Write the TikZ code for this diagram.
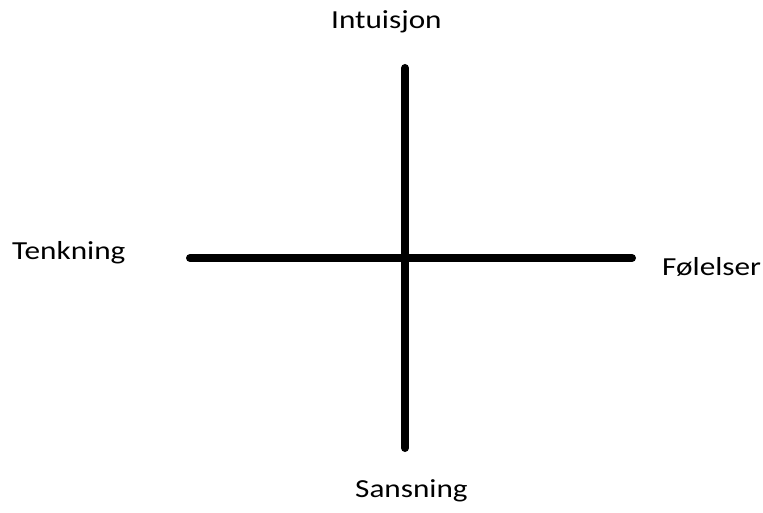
\documentclass[tikz,border=0pt]{standalone}
\usepackage{fontspec}
\setmainfont[FakeStretch=1.2]{Carlito}
\begin{document}
\begin{tikzpicture}[x=1pt,y=-1pt,
  axis/.style={line width=8pt,line cap=round},
  lbl/.style={inner sep=0pt,anchor=base west,font=\fontsize{26}{30}\selectfont,text=black}]
\useasboundingbox (0,0) rectangle (763,513);
\coordinate (top) at (405,68);
\coordinate (bot) at (405,448);
\coordinate (left) at (190,258);
\coordinate (right) at (632,258);
\draw[axis] (top) -- (bot);
\draw[axis] (left) -- (right);
\node[lbl] (intu) at (331,29) {Intuisjon};
\node[lbl] (tenk) at (12,259) {Tenkning};
\node[lbl] (fol) at (662,275) {Følelser};
\node[lbl] (sans) at (355,497) {Sansning};
\end{tikzpicture}
\end{document}
